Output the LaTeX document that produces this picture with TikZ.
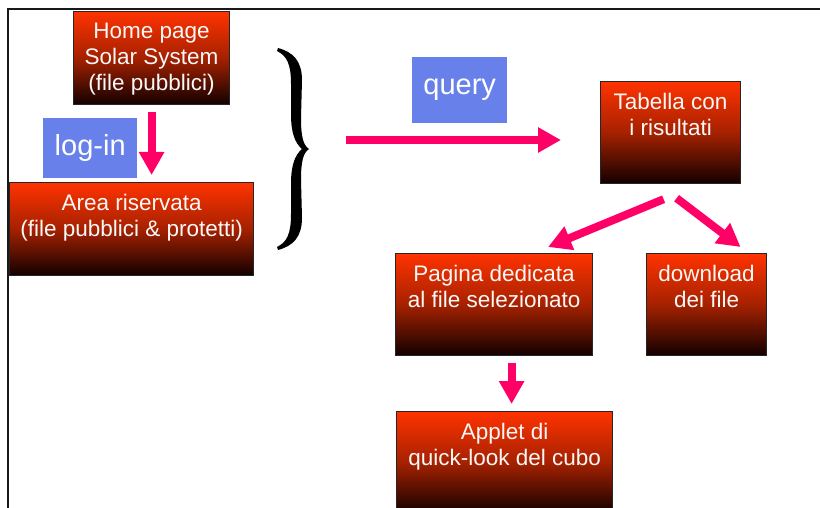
\documentclass[tikz,border=0pt]{standalone}
\usepackage{fontspec}
\setmainfont{Liberation Sans}
\usetikzlibrary{arrows.meta}
\definecolor{boxtop}{RGB}{255,51,0}
\definecolor{boxmid}{RGB}{165,33,0}
\definecolor{boxbot}{RGB}{18,0,0}
\definecolor{lblblue}{RGB}{104,128,234}
\definecolor{arrpink}{RGB}{255,0,102}
\definecolor{txtwhite}{RGB}{248,248,248}
\tikzset{
  gbox/.style={draw=black!85, line width=1.2pt, top color=boxtop, bottom color=boxbot, middle color=boxmid, inner sep=0pt, anchor=north west},
  gtext/.style={anchor=north, inner sep=0pt, align=center, text=txtwhite, font=\fontsize{22.5}{26}\selectfont},
  lbl/.style={fill=lblblue, text=white, inner sep=0pt, anchor=north west, font=\fontsize{29}{32}\selectfont},
  pinkarrow/.style={draw=arrpink, line width=8pt, -{Triangle[length=23pt,width=24pt]}},
  frameline/.style={line width=2pt, draw=black!90}
}
\begin{document}
\begin{tikzpicture}[x=1pt,y=-1pt]
\useasboundingbox (0,0) rectangle (820,508);
\clip (0,0) rectangle (820,508);
\fill[white] (0,0) rectangle (820,508);
% frame
\draw[frameline] (8,508) -- (8,9) -- (820,9);
% boxes
\node[gbox, minimum width=156pt, minimum height=93pt] (home) at (73,11) {};
\node[gtext] (homet) at ([yshift=-11.5pt]home.north) {Home page\\Solar System\\(file pubblici)};
\node[gbox, minimum width=244pt, minimum height=93pt] (area) at (9,182) {};
\node[gtext] (areat) at ([yshift=-11.5pt]area.north) {Area riservata\\(file pubblici \& protetti)};
\node[gbox, minimum width=140pt, minimum height=102pt] (tab) at (600,81) {};
\node[gtext] (tabt) at ([yshift=-11.5pt]tab.north) {Tabella con\\i risultati};
\node[gbox, minimum width=197pt, minimum height=102pt] (pag) at (395,253) {};
\node[gtext] (pagt) at ([yshift=-11.5pt]pag.north) {Pagina dedicata\\al file selezionato};
\node[gbox, minimum width=120pt, minimum height=102pt] (dl) at (646,253) {};
\node[gtext] (dlt) at ([yshift=-11.5pt]dl.north) {download\\dei file};
\node[gbox, minimum width=216pt, minimum height=102pt] (app) at (396,411) {};
\node[gtext] (appt) at ([yshift=-11.5pt]app.north) {Applet di\\quick-look del cubo};
% labels
\node[lbl, minimum width=94pt, minimum height=60pt] (login) at (43,118) {log-in};
\node[lbl, minimum width=95pt, minimum height=66pt] (query) at (412,57) {query};
% brace
\fill[black] (278,48) .. controls (293,52) and (302,61) .. (302,80)
  -- (301,118) .. controls (301,136) and (303,145) .. (309,149)
  .. controls (303,153) and (301,162) .. (301,180)
  -- (302,218) .. controls (302,237) and (293,246) .. (278,250)
  -- (277,247) .. controls (287,242) and (291,234) .. (291,214)
  -- (291,184) .. controls (291,165) and (295,155) .. (302,149)
  .. controls (295,143) and (291,133) .. (291,114)
  -- (291,84) .. controls (291,64) and (287,56) .. (277,51) -- cycle;
\coordinate (qstart) at (346,140);
% arrows
\draw[pinkarrow, shorten <=7pt, shorten >=7pt] (home.south) -- (home.south |- area.north);
\draw[pinkarrow, shorten >=39pt] (qstart) -- (qstart -| tab.west);
\draw[pinkarrow] ([xshift=-7pt,yshift=-15pt]tab.south) -- ([xshift=54pt,yshift=6pt]pag.north);
\draw[pinkarrow] ([xshift=6pt,yshift=-14pt]tab.south) -- ([xshift=34pt,yshift=6pt]dl.north);
\draw[pinkarrow, shorten >=7pt] ([xshift=17.5pt,yshift=-7pt]pag.south) -- ([xshift=17.5pt]pag.south |- app.north);
\end{tikzpicture}
\end{document}
